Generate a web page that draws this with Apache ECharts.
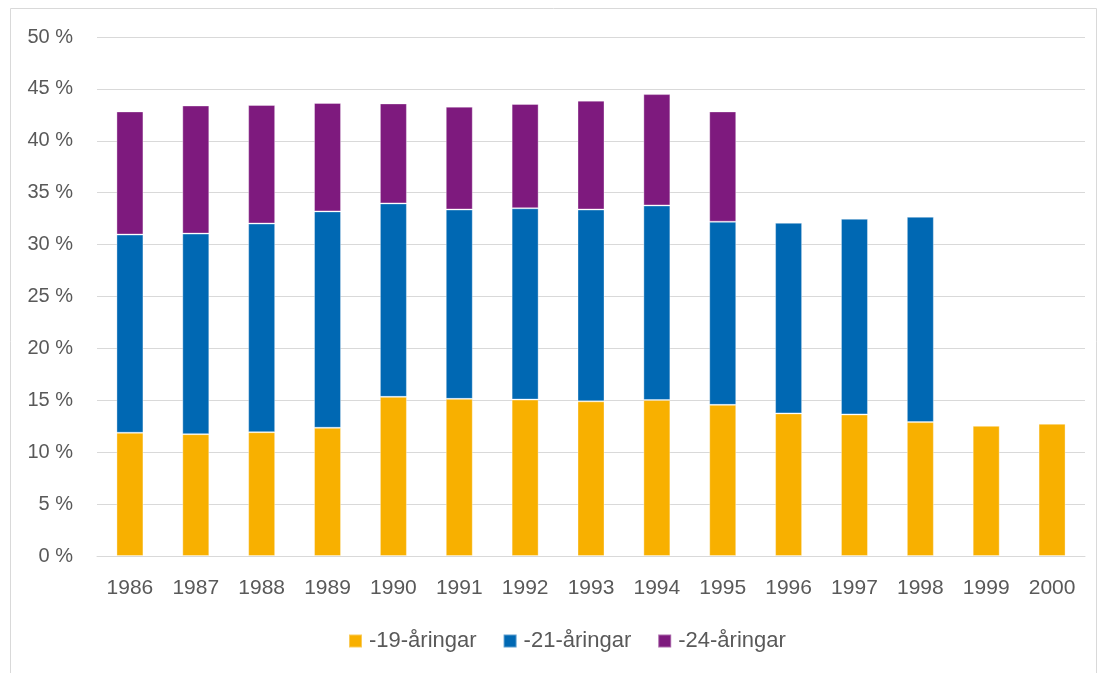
<!DOCTYPE html>
<html>
<head>
<meta charset="utf-8">
<script src="https://cdn.jsdelivr.net/npm/echarts@6/dist/echarts.min.js"></script>
<style>
html,body{margin:0;padding:0;background:#fff;}
#c{width:1105px;height:673px;}
</style>
</head>
<body>
<div id="c"></div>
<script>
const years = ['1986','1987','1988','1989','1990','1991','1992','1993','1994','1995','1996','1997','1998','1999','2000'];
const names = ['-19-åringar','-21-åringar','-24-åringar'];
const s19 = [11.87,11.74,11.93,12.35,15.33,15.14,15.07,14.9,15.03,14.56,13.74,13.64,12.9,12.54,12.74];
const s21 = [19.1,19.32,20.1,20.85,18.64,18.24,18.43,18.48,18.74,17.64,18.36,18.85,19.78,null,null];
const s24 = [11.86,12.34,11.42,10.45,9.63,9.91,10.05,10.49,10.73,10.63,null,null,null,null,null];
const colors = ['#F8B000','#0068B3','#7E1A7E'];
const yTicks = [0,5,10,15,20,25,30,35,40,45,50];

const chart = echarts.init(document.getElementById('c'), null, {renderer:'canvas'});
const font = 'Liberation Sans, Arial, sans-serif';
const mk = (i, data) => ({
  name: names[i], type:'bar', stack:'t', data: data, barWidth:'41%',
  itemStyle:{color:colors[i], borderColor:'rgba(255,255,255,0.35)', borderWidth:1},
  emphasis:{disabled:true}
});
chart.setOption({
  animation:false,
  color: colors,
  graphic:[{type:'rect', shape:{x:10.5,y:8.5,width:1086,height:700}, style:{fill:null, stroke:'#d9d9d9', lineWidth:1}, silent:true}],
  grid:{left:97, right:20, top:37, bottom:117, containLabel:false},
  legend:{
    top:625, left:343, itemWidth:13, itemHeight:13, itemGap:26, icon:'rect',
    textStyle:{color:'#595959', fontSize:22, fontFamily:font, padding:[0,0,0,2]},
    data: names
  },
  xAxis:{
    type:'category', data: years,
    axisLine:{show:true, lineStyle:{color:'#d9d9d9', width:1}},
    axisTick:{show:false},
    axisLabel:{color:'#595959', fontSize:21, fontFamily:font, margin:22}
  },
  yAxis:{
    type:'value', min:0, max:50, interval:5,
    axisLine:{show:false}, axisTick:{show:false},
    splitLine:{lineStyle:{color:'#d9d9d9', width:1}},
    axisLabel:{color:'#595959', fontSize:20, fontFamily:font, margin:24,
      formatter: v => yTicks.includes(v) ? v + ' %' : ''}
  },
  series:[mk(0,s19), mk(1,s21), mk(2,s24)]
});
</script>
</body>
</html>
